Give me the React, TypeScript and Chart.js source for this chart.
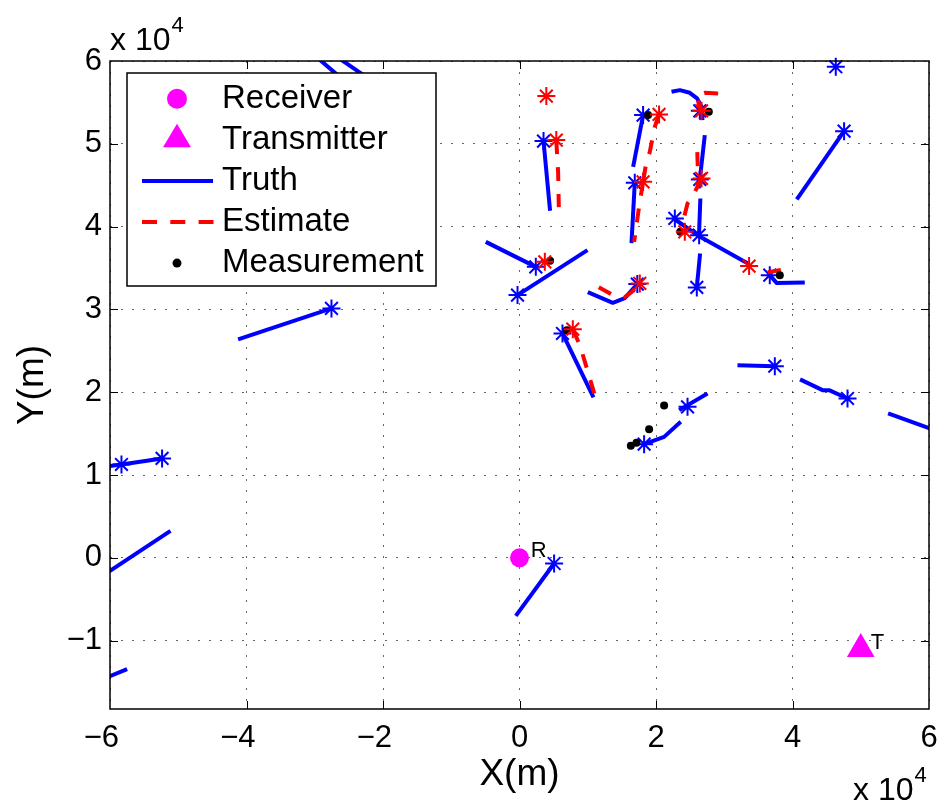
import React, { useEffect, useRef } from "react";
import { Chart, registerables } from "chart.js";

Chart.register(...registerables);

const FONT = '"Liberation Sans", Arial, Helvetica, sans-serif';
const BLUE = "#0000ff";
const RED = "#ff0000";
const MAGENTA = "#ff00ff";

// axis ranges / ticks (metres)
const xRange = [-60000, 60000];
const yRange = [-18250, 60000];
const xTickValues = [-60000, -40000, -20000, 0, 20000, 40000, 60000];
const yTickValues = [-10000, 0, 10000, 20000, 30000, 40000, 50000, 60000];
const axisExponent = "4";
const xTitle = "X(m)";
const yTitle = "Y(m)";
const legendLabels = ["Receiver", "Transmitter", "Truth", "Estimate", "Measurement"];

// fixed sites
const receiverPos: number[][] = [[0, 0]];
const transmitterPos: number[][] = [[50000, -11000]];
const siteLabels = [
  { text: "R", x: 1650, y: 800 },
  { text: "T", x: 51470, y: -10300 },
];

// truth tracks (each is a polyline of [x, y])
const truthTracks: number[][][] = [
  [[22900, 40800], [26400, 38800], [33600, 35500]],
  [[26500, 43400], [26300, 39000]],
  [[26460, 36760], [25980, 32660]],
  [[36670, 34140], [37700, 33180], [41800, 33260]],
  [[27150, 51050], [26420, 45700]],
  [[22270, 56280], [23490, 56480], [24950, 56160], [26020, 55480], [26670, 54470], [26810, 52860]],
  [[18110, 53470], [16650, 47220]],
  [[16890, 45290], [16410, 38010]],
  [[3520, 50330], [4480, 41910]],
  [[-4940, 38160], [2390, 35140]],
  [[9960, 37160], [-290, 31730]],
  [[10010, 32090], [13670, 30800], [15430, 31360], [16600, 32450], [17260, 33060]],
  [[6300, 27100], [10840, 19370]],
  [[18260, 13730], [21190, 14610], [23630, 16430]],
  [[23390, 17840], [27550, 19860]],
  [[31940, 23270], [37410, 23150]],
  [[41110, 21550], [44400, 20250], [45360, 20250], [48060, 19250]],
  [[54010, 17440], [60850, 15420]],
  [[40630, 43280], [47560, 51530]],
  [[-41230, 26380], [-27550, 30120]],
  [[-61490, 10950], [-58320, 11280], [-52370, 12010]],
  [[-61490, -2370], [-51140, 3260]],
  [[-61490, -14770], [-57490, -13440]],
  [[-540, -7010], [5070, -680]],
  [[-29550, 60350], [-23400, 56000]],
  [[-26480, 60350], [-19000, 56120]],
];

// current truth positions (blue asterisks)
const truthHeads: number[][] = [
  [46340, 59300], [47560, 51530], [3520, 50330], [18110, 53470], [16890, 45290],
  [26420, 53980], [26420, 45700], [22760, 40990], [26320, 38970], [25980, 32660],
  [36670, 34140], [2390, 35140], [-290, 31730], [17260, 33060], [6300, 27100],
  [18260, 13730], [24620, 18240], [37410, 23150], [48060, 19250], [-27550, 30120],
  [-58320, 11280], [-52370, 12010], [5070, -680],
];

// estimated tracks (red dashed)
const estimateTracks: number[][][] = [
  [[5390, 50450], [5660, 46580], [5760, 42350]],
  [[20450, 53550], [19820, 52050], [19090, 49030], [18510, 47430], [18110, 45410]],
  [[18110, 45410], [17520, 42390], [16790, 38160]],
  [[29100, 56090], [27150, 56160], [25980, 55880], [26270, 54790], [26670, 53980]],
  [[26050, 49000], [26120, 47190], [26670, 45820], [25580, 44010], [24620, 42800], [24120, 41180], [24220, 39370]],
  [[36380, 34500], [38290, 34750]],
  [[11620, 32690], [13670, 31730], [15430, 31490], [16600, 32210], [17630, 33140]],
  [[7810, 27620], [8840, 25690], [9860, 22910], [11030, 19650]],
];

// current estimates (red asterisks)
const estimateHeads: number[][] = [
  [3930, 55760], [5390, 50450], [20450, 53550], [18110, 45410], [26670, 53980],
  [26670, 45820], [24220, 39370], [33640, 35230], [3710, 35750], [17630, 33140],
  [7810, 27620],
];

// measurements (black dots)
const measurements: number[][] = [
  [4480, 35870], [18840, 53470], [27740, 53860], [23560, 39370], [38140, 34140],
  [21190, 18410], [18990, 15540], [16310, 13530], [17140, 13890], [6930, 27500],
];

const toPts = (arr: number[][]) => arr.map(([x, y]) => ({ x, y }));

const fmtTick = (v: number, padNeg: boolean) => {
  const n = Math.round(v / 1e4);
  if (n < 0) return "\u2212" + Math.abs(n) + (padNeg ? "  " : "");
  return String(n);
};

const RIGHT_MARGIN = 13;

const decorPlugin = {
  id: "matlabDecor",
  afterLayout(chart: any) {
    // pin the plot box's right edge
    const a = chart.chartArea;
    const targetRight = chart.width - RIGHT_MARGIN;
    if (Math.abs(a.right - targetRight) > 0.01) {
      a.right = targetRight;
      a.width = a.right - a.left;
      const xs = chart.scales.x;
      xs.right = targetRight;
      xs.width = xs.right - xs.left;
      xs.configure();
    }
  },
  afterDatasetsDraw(chart: any) {
    const { ctx, chartArea: a, scales } = chart;
    const xs = scales.x;
    const ys = scales.y;
    ctx.save();
    // inward tick marks on all four sides
    ctx.strokeStyle = "#000";
    ctx.lineWidth = 1;
    ctx.setLineDash([]);
    ctx.beginPath();
    xs.ticks.forEach((t: any) => {
      const p = Math.round(xs.getPixelForValue(t.value)) + 0.5;
      if (p <= a.left + 2 || p >= a.right - 2) return;
      ctx.moveTo(p, a.bottom);
      ctx.lineTo(p, a.bottom - 8);
      ctx.moveTo(p, a.top);
      ctx.lineTo(p, a.top + 8);
    });
    ys.ticks.forEach((t: any) => {
      const p = Math.round(ys.getPixelForValue(t.value)) + 0.5;
      if (p <= a.top + 2 || p >= a.bottom - 2) return;
      ctx.moveTo(a.left, p);
      ctx.lineTo(a.left + 8, p);
      ctx.moveTo(a.right, p);
      ctx.lineTo(a.right - 8, p);
    });
    ctx.stroke();
    // axes box
    ctx.lineWidth = 1.5;
    ctx.strokeRect(a.left, a.top, a.right - a.left, a.bottom - a.top);

    // site labels
    ctx.fillStyle = "#000";
    ctx.font = `22px ${FONT}`;
    ctx.textAlign = "left";
    ctx.textBaseline = "middle";
    siteLabels.forEach((l) => {
      ctx.fillText(l.text, xs.getPixelForValue(l.x), ys.getPixelForValue(l.y));
    });

    // exponent labels
    const drawExp = (x: number, base: number) => {
      ctx.font = `32px ${FONT}`;
      ctx.textBaseline = "alphabetic";
      ctx.fillText("x 10", x, base);
      const w = ctx.measureText("x 10").width;
      ctx.font = `22px ${FONT}`;
      ctx.fillText(axisExponent, x + w + 1, base - 18);
    };
    drawExp(a.left, a.top - 11);
    drawExp(a.right - 76, a.bottom + 91);

    // legend
    const lx = a.left + 17;
    const ly = a.top + 12;
    const lw = 309;
    const lh = 213;
    ctx.fillStyle = "#fff";
    ctx.fillRect(lx, ly, lw, lh);
    ctx.strokeStyle = "#000";
    ctx.lineWidth = 1.5;
    ctx.strokeRect(lx, ly, lw, lh);
    const symX = lx + 50;
    const rowY = (i: number) => ly + 25.7 + i * 41.1;
    ctx.fillStyle = MAGENTA;
    ctx.beginPath();
    ctx.arc(symX, rowY(0), 10, 0, Math.PI * 2);
    ctx.fill();
    ctx.beginPath();
    ctx.moveTo(symX, rowY(1) - 16);
    ctx.lineTo(symX + 14, rowY(1) + 7.5);
    ctx.lineTo(symX - 14, rowY(1) + 7.5);
    ctx.closePath();
    ctx.fill();
    ctx.strokeStyle = BLUE;
    ctx.lineWidth = 4;
    ctx.beginPath();
    ctx.moveTo(lx + 15, rowY(2));
    ctx.lineTo(lx + 86, rowY(2));
    ctx.stroke();
    ctx.strokeStyle = RED;
    ctx.setLineDash([15, 13.3]);
    ctx.beginPath();
    ctx.moveTo(lx + 15, rowY(3));
    ctx.lineTo(lx + 86.5, rowY(3));
    ctx.stroke();
    ctx.setLineDash([]);
    ctx.fillStyle = "#000";
    ctx.beginPath();
    ctx.arc(symX, rowY(4), 4.5, 0, Math.PI * 2);
    ctx.fill();
    ctx.font = `33px ${FONT}`;
    ctx.textBaseline = "middle";
    ctx.textAlign = "left";
    legendLabels.forEach((t, i) => ctx.fillText(t, lx + 95, rowY(i)));
    ctx.restore();
  },
};

export default function App() {
  const ref = useRef<HTMLCanvasElement | null>(null);

  useEffect(() => {
    if (!ref.current) return;
    const lineDs = (t: number[][], color: string, dash: number[], order: number) => ({
      data: toPts(t),
      showLine: true,
      borderColor: color,
      backgroundColor: color,
      borderWidth: 4,
      borderDash: dash,
      borderJoinStyle: "round",
      borderCapStyle: "butt",
      pointRadius: 0,
      pointHoverRadius: 0,
      clip: 0,
      order,
    });
    const ptDs = (pts: number[][], color: string, style: string, r: number, bw: number, order: number) => ({
      data: toPts(pts),
      showLine: false,
      pointStyle: style,
      pointRadius: r,
      pointHoverRadius: r,
      pointBorderWidth: bw,
      pointBorderColor: color,
      pointBackgroundColor: color,
      borderColor: color,
      backgroundColor: color,
      clip: false,
      order,
    });

    const datasets: any[] = [
      ...truthTracks.map((t) => lineDs(t, BLUE, [], 7)),
      ptDs(truthHeads, BLUE, "star", 9, 2, 6),
      ...estimateTracks.map((t) => lineDs(t, RED, [14, 13], 5)),
      ptDs(measurements, "#000", "circle", 4, 0, 4),
      ptDs(estimateHeads, RED, "star", 9, 2, 3),
      ptDs(receiverPos, MAGENTA, "circle", 9.5, 0, 2),
      ptDs(transmitterPos, MAGENTA, "triangle", 16, 0, 1),
    ];

    const chart = new Chart(ref.current, {
      type: "scatter",
      data: { datasets },
      options: {
        responsive: false,
        animation: false,
        devicePixelRatio: 1,
        events: [],
        layout: { padding: { top: 61, right: RIGHT_MARGIN, bottom: 0, left: 0 } },
        plugins: {
          legend: { display: false },
          tooltip: { enabled: false },
          title: { display: false },
        },
        scales: {
          x: {
            type: "linear",
            position: "bottom",
            bounds: "data",
            min: xRange[0],
            max: xRange[1],
            afterBuildTicks: (s: any) => {
              s.ticks = xTickValues.map((value) => ({ value }));
            },
            afterFit: (s: any) => {
              s.height = 101;
              s.paddingLeft = 0;
              s.paddingRight = 0;
            },
            ticks: {
              autoSkip: false,
              maxRotation: 0,
              padding: 11,
              color: "#000",
              font: { family: FONT, size: 31 },
              callback: (v: any) => fmtTick(Number(v), true),
            },
            grid: { color: "rgba(0,0,0,0.6)", lineWidth: 1, drawTicks: false },
            border: { display: false, dash: [2, 9] },
            title: {
              display: true,
              text: xTitle,
              color: "#000",
              font: { family: FONT, size: 37 },
              padding: { top: 0, bottom: 13 },
            },
          },
          y: {
            type: "linear",
            position: "left",
            bounds: "data",
            min: yRange[0],
            max: yRange[1],
            afterBuildTicks: (s: any) => {
              s.ticks = yTickValues.map((value) => ({ value }));
            },
            afterFit: (s: any) => {
              s.width = 110;
              s.paddingTop = 0;
              s.paddingBottom = 0;
            },
            ticks: {
              autoSkip: false,
              padding: 8,
              color: "#000",
              font: { family: FONT, size: 31 },
              callback: (v: any) => fmtTick(Number(v), false),
            },
            grid: { color: "rgba(0,0,0,0.6)", lineWidth: 1, drawTicks: false },
            border: { display: false, dash: [2, 9] },
            title: {
              display: true,
              text: yTitle,
              color: "#000",
              font: { family: FONT, size: 37 },
              padding: { top: 11, bottom: 0 },
            },
          },
        },
      } as any,
      plugins: [decorPlugin as any],
    });
    return () => chart.destroy();
  }, []);

  return (
    <div style={{ position: "absolute", left: 0, top: 0, width: 942, height: 810, background: "#fff" }}>
      <canvas ref={ref} width={942} height={810} style={{ display: "block", width: 942, height: 810 }} />
    </div>
  );
}
